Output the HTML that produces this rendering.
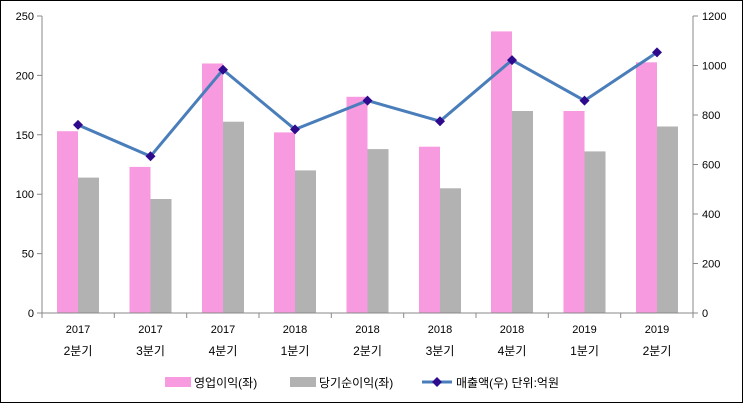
<!DOCTYPE html><html><head><meta charset="utf-8"><style>body{margin:0}svg{display:block}text{font-family:"Liberation Sans","Noto Sans CJK KR",sans-serif;font-size:11px;fill:#000}.k{font-size:12px}</style></head><body>
<svg width="743" height="403" xmlns="http://www.w3.org/2000/svg">
<rect x="0.5" y="0.5" width="742" height="402" fill="#fff" stroke="#000"/>
<g fill="#f79ae0">
<rect x="57" y="131.2" width="21" height="181.8"/>
<rect x="129.5" y="166.9" width="21" height="146.1"/>
<rect x="202" y="63.5" width="21" height="249.5"/>
<rect x="274" y="132.4" width="21" height="180.6"/>
<rect x="346.5" y="96.8" width="21" height="216.2"/>
<rect x="419" y="146.7" width="21" height="166.3"/>
<rect x="491" y="31.4" width="21" height="281.6"/>
<rect x="563.5" y="111" width="21" height="202"/>
<rect x="636" y="62.3" width="21" height="250.7"/>
</g>
<g fill="#b2b2b2">
<rect x="78" y="177.6" width="21" height="135.4"/>
<rect x="150.5" y="199" width="21" height="114"/>
<rect x="223" y="121.7" width="21" height="191.3"/>
<rect x="295" y="170.4" width="21" height="142.6"/>
<rect x="367.5" y="149.1" width="21" height="163.9"/>
<rect x="440" y="188.3" width="21" height="124.7"/>
<rect x="512" y="111" width="21" height="202"/>
<rect x="584.5" y="151.4" width="21" height="161.6"/>
<rect x="657" y="126.5" width="21" height="186.5"/>
</g>
<g stroke="#888" fill="none">
<line x1="42" y1="313" x2="693" y2="313"/><line x1="42" y1="16" x2="42" y2="313"/><line x1="693" y1="16" x2="693" y2="313"/>
<path d="M42 313v5M114.3 313v5M186.7 313v5M259 313v5M331.3 313v5M403.7 313v5M476 313v5M548.3 313v5M620.7 313v5M693 313v5"/>
<path d="M37 313h5M37 253.6h5M37 194.2h5M37 134.8h5M37 75.4h5M37 16h5"/>
<path d="M693 313h5M693 263.5h5M693 214h5M693 164.5h5M693 115h5M693 65.5h5M693 16h5"/>
</g>
<g text-anchor="end">
<text x="34" y="317">0</text><text x="34" y="257.6">50</text><text x="34" y="198.2">100</text><text x="34" y="138.8">150</text><text x="34" y="79.4">200</text><text x="34" y="20">250</text>
</g>
<g>
<text x="702" y="317">0</text><text x="702" y="267.5">200</text><text x="702" y="218">400</text><text x="702" y="168.5">600</text><text x="702" y="119">800</text><text x="702" y="69.5">1000</text><text x="702" y="20">1200</text>
</g>
<g text-anchor="middle">
<text x="78" y="333">2017</text><text x="78" y="355" class="k">2분기</text>
<text x="150.5" y="333">2017</text><text x="150.5" y="355" class="k">3분기</text>
<text x="223" y="333">2017</text><text x="223" y="355" class="k">4분기</text>
<text x="295" y="333">2018</text><text x="295" y="355" class="k">1분기</text>
<text x="367.5" y="333">2018</text><text x="367.5" y="355" class="k">2분기</text>
<text x="440" y="333">2018</text><text x="440" y="355" class="k">3분기</text>
<text x="512" y="333">2018</text><text x="512" y="355" class="k">4분기</text>
<text x="584.5" y="333">2019</text><text x="584.5" y="355" class="k">1분기</text>
<text x="657" y="333">2019</text><text x="657" y="355" class="k">2분기</text>
</g>
<polyline points="78,124.9 150.5,156.3 223,69.7 295,129.4 367.5,100.6 440,121.2 512,60.1 584.5,100.6 657,52.4" fill="none" stroke="#4a7ebb" stroke-width="3"/>
<g fill="#2e0a8c">
<polygon points="78,119.9 83,124.9 78,129.9 73,124.9"/>
<polygon points="150.5,151.3 155.5,156.3 150.5,161.3 145.5,156.3"/>
<polygon points="223,64.7 228,69.7 223,74.7 218,69.7"/>
<polygon points="295,124.4 300,129.4 295,134.4 290,129.4"/>
<polygon points="367.5,95.6 372.5,100.6 367.5,105.6 362.5,100.6"/>
<polygon points="440,116.2 445,121.2 440,126.2 435,121.2"/>
<polygon points="512,55.1 517,60.1 512,65.1 507,60.1"/>
<polygon points="584.5,95.6 589.5,100.6 584.5,105.6 579.5,100.6"/>
<polygon points="657,47.4 662,52.4 657,57.4 652,52.4"/>
</g>
<rect x="165" y="377" width="26" height="10" fill="#f79ae0"/><text x="194" y="387" class="k">영업이익(좌)</text>
<rect x="290" y="377" width="26" height="10" fill="#b2b2b2"/><text x="319" y="387" class="k">당기순이익(좌)</text>
<line x1="422" y1="382" x2="452" y2="382" stroke="#4a7ebb" stroke-width="3"/><polygon points="437,377 442,382 437,387 432,382" fill="#2e0a8c"/><text x="456" y="387" class="k">매출액(우)  단위:억원</text>
</svg></body></html>
